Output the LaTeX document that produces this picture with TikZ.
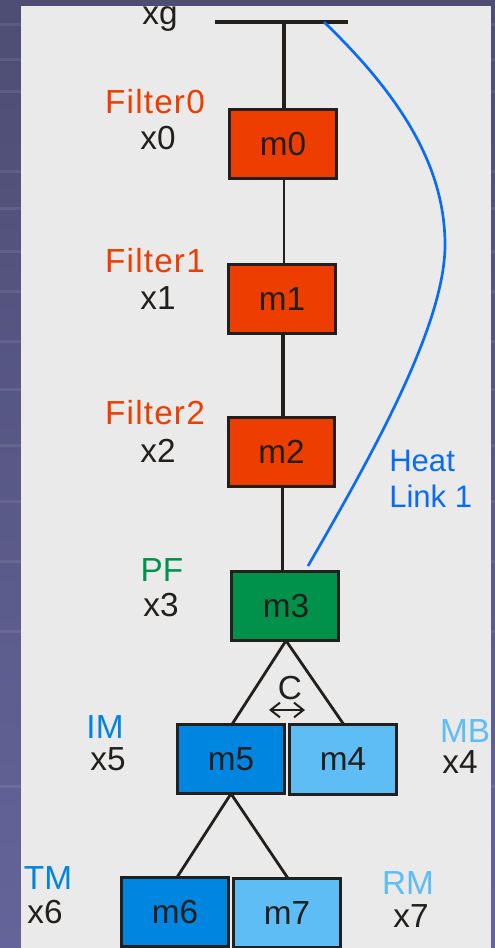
\documentclass[tikz,border=0pt]{standalone}
\usepackage{fontspec}
\setmainfont{Liberation Sans}
\newfontfamily\spacedfont[LetterSpace=3.5]{Liberation Sans}
\usetikzlibrary{arrows.meta}
\definecolor{filterred}{HTML}{EE3D00}
\definecolor{pfgreen}{HTML}{00924A}
\definecolor{imblue}{HTML}{0086E0}
\definecolor{mblue}{HTML}{5FBDF5}
\definecolor{linkblue}{HTML}{0A6CF5}
\definecolor{inkblack}{HTML}{221F1C}
\definecolor{panelgray}{HTML}{EAEAEA}
\definecolor{slidetop}{HTML}{4E4D73}
\definecolor{slidebottom}{HTML}{64649A}
\tikzset{
    mass/.style = {
        draw = inkblack,
        line width = 2.3pt,
        minimum width = 80pt,
        minimum height = 52pt,
        inner sep = 0pt,
        outer sep = 0pt,
        text = inkblack,
        font = \fontsize{25}{29}\selectfont,
        },
    filter mass/.style = {
        mass,
        fill = filterred,
        },
    pf mass/.style = {
        mass,
        fill = pfgreen,
        },
    im mass/.style = {
        mass,
        fill = imblue,
        },
    mb mass/.style = {
        mass,
        fill = mblue,
        },
    label/.style = {
        inner sep = 0pt,
        text = inkblack,
        font = \fontsize{25}{29}\selectfont,
        },
    filter label/.style = {
        label,
        text = filterred,
        font = \fontsize{25}{29}\spacedfont,
        },
    wire/.style = {
        draw = inkblack,
        line width = 2.4pt,
        },
    streak/.style = {
        fill = white,
        opacity = 0.08,
        },
}
\begin{document}
\begin{tikzpicture}[x=0.75pt, y=-0.75pt]
    \useasboundingbox (0,0) rectangle (495,948);
    \shade[top color=slidetop, bottom color=slidebottom] (0,0) rectangle (495,948);
    \foreach \y in {23,58,90,170,207,250,290,340,388,444,500,560,630,785}
        \fill[streak] (0,\y) rectangle (495,\y+3);
    \fill[panelgray] (21,6) rectangle (491,948);

    \node [filter mass] (m0) at (283,144) {m0};
    \node [filter mass] (m1) at (282,299) {m1};
    \node [filter mass] (m2) at (281.5,452) {m2};
    \node [pf mass] (m3) at (285,606) {\hspace{1.5pt}m3};
    \node [im mass] (m5) at (231,759) {m5};
    \node [mb mass] (m4) at (343,759.5) {m4};
    \node [im mass] (m6) at (175,912) {m6};
    \node [mb mass] (m7) at (287,913) {m7};

    \coordinate (bar left) at (215,22);
    \coordinate (bar right) at (348,22);
    \coordinate (bar mid) at (284,22);
    \coordinate (link start) at (324,22);
    \coordinate (link far) at (445,245);
    \coordinate (link end) at (308,566);
    \coordinate (gap left) at (269,710);
    \coordinate (gap right) at (305,710);

    \draw[wire] (bar left) -- (bar right);
    \draw[wire] (bar mid) -- (m0.north -| bar mid);
    \draw[wire, line width=1.5pt] ([xshift=0.75pt] m0.south) -- ([xshift=0.75pt] m0.south |- m1.north);
    \draw[wire] ([xshift=0.75pt] m1.south) -- ([xshift=0.75pt] m1.south |- m2.north);
    \draw[wire] ([xshift=0.75pt] m2.south) -- ([xshift=0.75pt] m2.south |- m3.north);
    \draw[wire, line width=2.1pt] (m3.south) ++(1,0) coordinate (apex) -- ([xshift=0.75pt] m5.north);
    \draw[wire, line width=2.1pt] (apex) -- ([xshift=0.75pt] m4.north);
    \draw[wire, line width=2.1pt] (m5.south) -- ([xshift=1.5pt] m6.north);
    \draw[wire, line width=2.1pt] (m5.south) -- ([xshift=0.75pt] m7.north);
    \draw[inkblack, line width=1.5pt, {Straight Barb[length=7pt,width=11pt]}-{Straight Barb[length=7pt,width=11pt]}] (gap left) -- (gap right);

    \draw[linkblue, line width=2pt] (link start) .. controls (405,100) and (445,170) .. (link far)
        .. controls (445,325) and (372,455) .. (link end);

    \node [label] (xg) at (160,19) {xg};
    \node [filter label] (filter0) at (155,102) {Filter0};
    \node [label] (x0) at (158,138) {x0};
    \node [filter label] (filter1) at (155,261) {Filter1};
    \node [label] (x1) at (158,298) {x1};
    \node [filter label] (filter2) at (155,413) {Filter2};
    \node [label] (x2) at (158,451) {x2};
    \node [label, text=pfgreen] (pf) at (162,570) {PF};
    \node [label] (x3) at (161,605) {x3};
    \node [label] (c) at (290,688) {C};
    \node [label, text=imblue] (im) at (105,727) {IM};
    \node [label] (x5) at (108,759) {x5};
    \node [label, text=mblue] (mb) at (465,731) {MB};
    \node [label] (x4) at (460,762) {x4};
    \node [label, text=imblue] (tm) at (48,878) {TM};
    \node [label] (x6) at (45,912) {x6};
    \node [label, text=mblue] (rm) at (408,883) {RM};
    \node [label] (x7) at (411,916) {x7};
    \node [label, text=linkblue, align=left, font=\fontsize{23.3}{27}\selectfont, anchor=west] (link) at (389,479) {Heat\\Link 1};
\end{tikzpicture}
\end{document}
